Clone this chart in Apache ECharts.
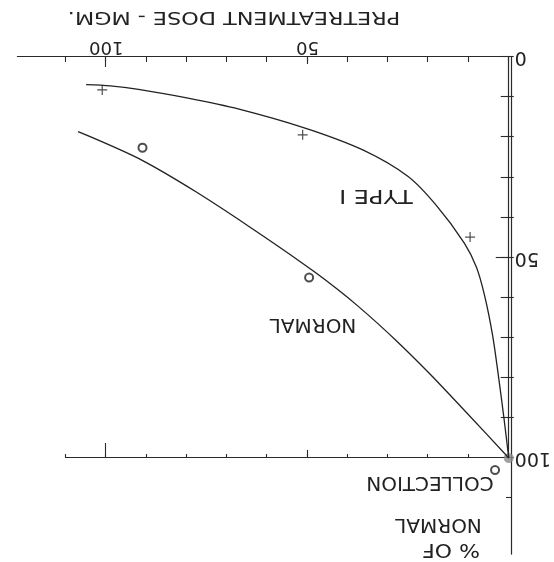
<!DOCTYPE html>
<html>
<head>
<meta charset="utf-8">
<script src="https://cdn.jsdelivr.net/npm/echarts@6/dist/echarts.min.js"></script>
<style>
html,body{margin:0;padding:0;background:#fff;}
#wrap{width:554px;height:562px;transform:rotate(180deg);transform-origin:50% 50%;}
#chart{width:554px;height:562px;}
</style>
</head>
<body>
<div id="wrap"><div id="chart"></div></div>
<script>
// ---- data (dose in mg, % of normal collection) ----
const typeICurve = [[0,100],[1.2,90],[2.5,80],[4,69.5],[6,59.5],[8,52.5],[11,46.5],[18,37],[25,29.8],[36,23.3],[51,17.6],[67,13],[80,10.2],[92,8.1],[99,7.2],[105,6.9]];
const normalCurve = [[0,100],[10,89.2],[20,78.6],[30,68.8],[40,60],[51,51.6],[67,40.6],[80,32.2],[92,25.3],[107,18.6]];
const typeIPoints = [[101,8.2],[51.2,19.4],[9.6,44.9]];
const normalPoints = [[91,22.6],[49.6,55],[3.4,103]];
const originPoint = [[0,100]];
const xLabelValues = [50,100];
const yLabelValues = [0,50,100];
const xTitle = 'PRETREATMENT DOSE - MGM.';
const yTitleLines = ['% OF','NORMAL','COLLECTION'];
const curveNames = ['TYPE I','NORMAL'];

const INK = '#222222';
const FONT = '"DejaVu Sans", sans-serif';
const axLine = {show:true, lineStyle:{color:'#2a2a2a', width:1.2}};
const noLine = {show:false};
const tickStyle = {color:'#2a2a2a', width:1.1};
const off = {show:false};

function xAx(opts){
  return Object.assign({gridIndex:1, type:'value', min:0, max:110, interval:10, position:'bottom',
    axisLine:noLine, axisLabel:off, splitLine:off, axisTick:off}, opts);
}
function yAx(opts){
  return Object.assign({gridIndex:1, type:'value', min:0, max:100, interval:10, position:'left',
    axisLine:noLine, axisLabel:off, splitLine:off, axisTick:off}, opts);
}

const chart = echarts.init(document.getElementById('chart'));
chart.setOption({
  backgroundColor:'#ffffff',
  animation:false,
  grid:[
    {left:42, bottom:57, width:494.6, height:497.2},
    {left:42, bottom:57, width:446, height:401}
  ],
  xAxis:[
    {gridIndex:0, type:'value', min:0, max:122, axisLine:axLine, axisTick:off, axisLabel:off, splitLine:off},
    xAx({axisTick:{show:true, inside:true, length:5, lineStyle:tickStyle},
         axisLabel:{show:true, customValues:xLabelValues, margin:1, fontSize:18, color:INK, fontFamily:FONT}}),
    xAx({axisTick:{show:true, inside:true, length:10, customValues:[100], lineStyle:tickStyle}}),
    xAx({axisTick:{show:true, inside:true, length:7, customValues:[50], lineStyle:tickStyle}}),
    xAx({position:'top', axisLine:axLine, axisTick:{show:true, inside:true, length:4, lineStyle:tickStyle}}),
    xAx({position:'top', axisTick:{show:true, inside:true, length:15, customValues:[100], lineStyle:tickStyle}}),
    xAx({position:'top', axisTick:{show:true, inside:true, length:8, customValues:[50], lineStyle:tickStyle}})
  ],
  yAxis:[
    {gridIndex:0, type:'value', min:0, max:124, axisLine:axLine,
     axisTick:{show:true, inside:true, length:6, customValues:[110], lineStyle:tickStyle}, axisLabel:off, splitLine:off},
    yAx({axisTick:{show:true, inside:true, length:8, lineStyle:tickStyle},
         axisLabel:{show:true, customValues:yLabelValues, margin:6, fontSize:19, color:INK, fontFamily:FONT}}),
    yAx({axisTick:{show:true, inside:true, length:13, customValues:[50], lineStyle:tickStyle}}),
    yAx({position:'right', axisLine:axLine, axisTick:{show:true, inside:true, length:5, lineStyle:tickStyle}})
  ],
  series:[
    {type:'line', name:curveNames[0], xAxisIndex:1, yAxisIndex:1, data:typeICurve, showSymbol:false,
     smooth:0.3, lineStyle:{color:INK, width:1.3}, clip:false},
    {type:'line', name:curveNames[1], xAxisIndex:1, yAxisIndex:1, data:normalCurve, showSymbol:false,
     smooth:0.3, lineStyle:{color:INK, width:1.3}, clip:false},
    {type:'scatter', xAxisIndex:1, yAxisIndex:1, data:typeIPoints, symbol:'path://M0,5L10,5M5,0L5,10', symbolSize:10,
     itemStyle:{color:'none', borderColor:INK, borderWidth:1.2}, clip:false},
    {type:'scatter', xAxisIndex:1, yAxisIndex:1, data:normalPoints, symbol:'emptyCircle', symbolSize:8,
     itemStyle:{color:INK, borderColor:INK, borderWidth:1.5}, clip:false},
    {type:'scatter', xAxisIndex:1, yAxisIndex:1, data:originPoint, symbol:'circle', symbolSize:10,
     itemStyle:{color:'#8a8a8a'}, clip:false, z:1}
  ],
  graphic:[
    {type:'text', x:320, y:545.5, scaleX:1.24, style:{text:xTitle, font:'18px ' + FONT, fill:INK, align:'center', verticalAlign:'middle'}},
    {type:'text', x:103, y:13, scaleX:1.1, style:{text:yTitleLines[0], font:'20px ' + FONT, fill:INK, align:'center', verticalAlign:'middle'}},
    {type:'text', x:115.5, y:38, style:{text:yTitleLines[1], font:'20px ' + FONT, fill:INK, align:'center', verticalAlign:'middle'}},
    {type:'text', x:124, y:80, style:{text:yTitleLines[2], font:'20px ' + FONT, fill:INK, align:'center', verticalAlign:'middle'}},
    {type:'text', x:178, y:366.5, scaleX:1.2, style:{text:curveNames[0], font:'20px ' + FONT, fill:INK, align:'center', verticalAlign:'middle'}},
    {type:'text', x:241, y:238, style:{text:curveNames[1], font:'20px ' + FONT, fill:INK, align:'center', verticalAlign:'middle'}}
  ]
});
</script>
</body>
</html>
